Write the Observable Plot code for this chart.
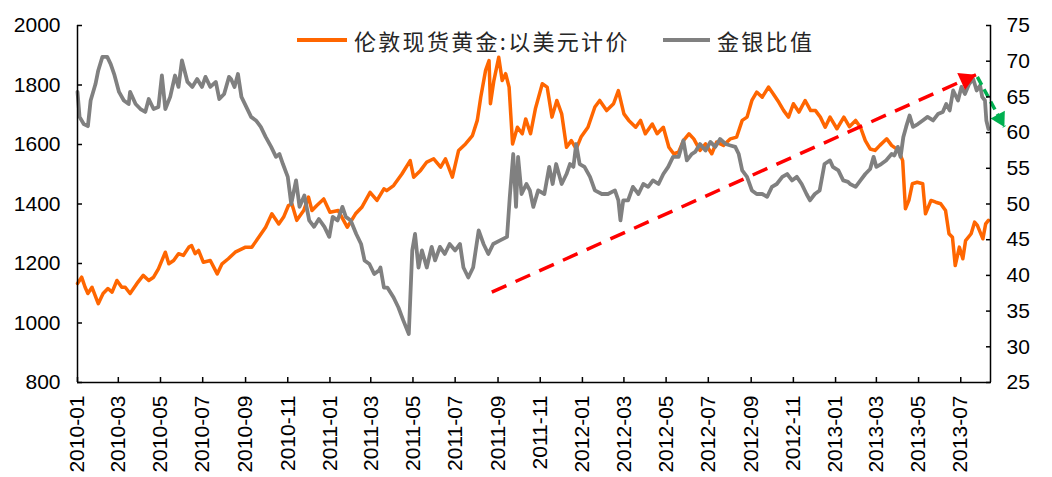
<!DOCTYPE html>
<html>
<head>
<meta charset="utf-8">
<script src="https://cdn.jsdelivr.net/npm/d3@7"></script>
<script src="https://cdn.jsdelivr.net/npm/@observablehq/plot@0.6"></script>
<style>
  html, body { margin: 0; padding: 0; background: #fff; }
  #wrap { position: relative; width: 1052px; height: 477px; }
  .item { position: absolute; top: 25px; height: 30px; display: flex; align-items: center;
          font-family: "Noto Sans CJK SC", "Noto Sans", sans-serif; font-size: 22px; letter-spacing: 2.3px; color: #262626; white-space: nowrap; }
  .sw { display: inline-block; height: 4px; margin-right: 7px; }
</style>
</head>
<body>
<div id="wrap"></div>
<script>
// ---------------- data ----------------
const legendLabels = ["伦敦现货黄金:以美元计价", "金银比值"];
const seriesColors = ["#FF6600", "#808080"];

const leftTicks = [800, 1000, 1200, 1400, 1600, 1800, 2000];
const rightTicks = [25, 30, 35, 40, 45, 50, 55, 60, 65, 70, 75];
const xTickLabels = ["2010-01","2010-03","2010-05","2010-07","2010-09","2010-11",
  "2011-01","2011-03","2011-05","2011-07","2011-09","2011-11",
  "2012-01","2012-03","2012-05","2012-07","2012-09","2012-11",
  "2013-01","2013-03","2013-05","2013-07"];
const xDomainDates = ["2010-01-01", "2013-08-13"];

// London spot gold, USD
const gold = [
  ["2010-01-01",1133],["2010-01-07",1154],["2010-01-12",1120],["2010-01-16",1099],["2010-01-22",1120],
  ["2010-01-31",1065],["2010-02-07",1099],["2010-02-14",1116],["2010-02-20",1104],["2010-02-27",1143],
  ["2010-03-06",1120],["2010-03-11",1120],["2010-03-18",1099],["2010-03-28",1133],["2010-04-06",1160],
  ["2010-04-14",1143],["2010-04-21",1154],["2010-04-28",1182],["2010-05-08",1238],["2010-05-13",1199],
  ["2010-05-20",1210],["2010-05-27",1233],["2010-06-03",1227],["2010-06-11",1255],["2010-06-15",1260],
  ["2010-06-20",1233],["2010-06-25",1244],["2010-07-02",1204],["2010-07-12",1210],["2010-07-22",1165],
  ["2010-07-29",1199],["2010-08-07",1216],["2010-08-17",1238],["2010-09-01",1255],["2010-09-10",1255],
  ["2010-09-20",1288],["2010-09-30",1322],["2010-10-09",1367],["2010-10-19",1333],["2010-10-26",1356],
  ["2010-11-02",1395],["2010-11-07",1400],["2010-11-14",1345],["2010-11-24",1378],["2010-12-01",1423],
  ["2010-12-06",1378],["2010-12-13",1395],["2010-12-23",1417],["2011-01-01",1372],["2011-01-13",1378],
  ["2011-01-26",1322],["2011-02-07",1367],["2011-02-16",1389],["2011-02-28",1439],["2011-03-10",1412],
  ["2011-03-20",1451],["2011-03-24",1445],["2011-04-03",1462],["2011-04-15",1501],["2011-04-27",1546],
  ["2011-05-02",1490],["2011-05-12",1513],["2011-05-21",1541],["2011-05-31",1552],["2011-06-10",1524],
  ["2011-06-17",1552],["2011-06-27",1490],["2011-07-06",1580],["2011-07-16",1602],["2011-07-26",1630],
  ["2011-08-02",1681],["2011-08-07",1759],["2011-08-14",1849],["2011-08-19",1882],["2011-08-21",1737],
  ["2011-08-26",1815],["2011-09-02",1893],["2011-09-07",1815],["2011-09-12",1838],["2011-09-17",1793],
  ["2011-09-22",1602],["2011-09-29",1658],["2011-10-06",1636],["2011-10-11",1686],["2011-10-18",1636],
  ["2011-10-25",1720],["2011-11-04",1804],["2011-11-11",1793],["2011-11-18",1692],["2011-11-25",1748],
  ["2011-12-02",1703],["2011-12-09",1591],["2011-12-16",1613],["2011-12-23",1585],["2011-12-30",1625],
  ["2012-01-09",1658],["2012-01-19",1726],["2012-01-26",1748],["2012-02-05",1714],["2012-02-15",1737],
  ["2012-02-22",1781],["2012-03-01",1703],["2012-03-08",1681],["2012-03-18",1658],["2012-03-25",1681],
  ["2012-04-01",1636],["2012-04-11",1669],["2012-04-18",1636],["2012-04-27",1658],["2012-05-05",1591],
  ["2012-05-12",1569],["2012-05-19",1574],["2012-05-26",1613],["2012-06-03",1636],["2012-06-10",1619],
  ["2012-06-19",1580],["2012-06-27",1602],["2012-07-06",1569],["2012-07-13",1608],["2012-07-23",1597],
  ["2012-08-02",1619],["2012-08-11",1625],["2012-08-19",1681],["2012-08-26",1692],["2012-09-02",1748],
  ["2012-09-09",1776],["2012-09-17",1759],["2012-09-26",1793],["2012-10-03",1770],["2012-10-11",1742],
  ["2012-10-18",1714],["2012-10-25",1692],["2012-11-01",1737],["2012-11-09",1709],["2012-11-18",1748],
  ["2012-11-26",1714],["2012-12-03",1714],["2012-12-10",1692],["2012-12-17",1658],["2012-12-24",1692],
  ["2013-01-03",1653],["2013-01-13",1692],["2013-01-21",1660],["2013-01-30",1681],["2013-02-06",1658],
  ["2013-02-13",1613],["2013-02-20",1585],["2013-02-27",1580],["2013-03-06",1597],["2013-03-16",1619],
  ["2013-03-23",1597],["2013-04-02",1580],["2013-04-08",1546],["2013-04-12",1384],["2013-04-17",1412],
  ["2013-04-22",1468],["2013-04-29",1473],["2013-05-07",1468],["2013-05-11",1367],["2013-05-19",1412],
  ["2013-05-26",1406],["2013-06-02",1401],["2013-06-09",1378],["2013-06-14",1300],["2013-06-19",1288],
  ["2013-06-23",1193],["2013-06-29",1255],["2013-07-04",1216],["2013-07-08",1277],["2013-07-16",1300],
  ["2013-07-21",1339],["2013-07-25",1328],["2013-08-02",1283],["2013-08-06",1333],["2013-08-10",1345]
];

// gold / silver ratio (right axis)
const ratio = [
  ["2010-01-01",65.7],["2010-01-04",62.2],["2010-01-10",61.2],["2010-01-16",60.9],["2010-01-20",64.5],
  ["2010-01-27",66.8],["2010-01-31",68.7],["2010-02-06",70.6],["2010-02-13",70.6],["2010-02-18",69.6],
  ["2010-02-23",68.2],["2010-03-02",65.7],["2010-03-09",64.5],["2010-03-16",64.0],["2010-03-18",65.7],
  ["2010-03-26",64.0],["2010-04-02",63.3],["2010-04-09",62.9],["2010-04-14",64.7],["2010-04-21",63.3],
  ["2010-04-28",63.6],["2010-05-03",68.0],["2010-05-08",63.3],["2010-05-15",65.0],["2010-05-22",68.0],
  ["2010-05-27",66.4],["2010-06-01",70.1],["2010-06-09",67.1],["2010-06-16",66.4],["2010-06-23",67.5],
  ["2010-06-30",66.4],["2010-07-05",67.8],["2010-07-12",66.4],["2010-07-20",67.1],["2010-07-25",64.7],
  ["2010-08-01",65.4],["2010-08-08",67.8],["2010-08-11",67.5],["2010-08-16",66.4],["2010-08-21",68.2],
  ["2010-08-26",65.0],["2010-09-02",63.6],["2010-09-09",62.2],["2010-09-16",61.7],["2010-09-23",60.8],
  ["2010-09-30",59.4],["2010-10-08",58.0],["2010-10-15",56.6],["2010-10-20",57.0],["2010-10-25",55.6],
  ["2010-11-01",53.8],["2010-11-06",50.0],["2010-11-13",53.3],["2010-11-18",49.6],["2010-11-25",51.2],
  ["2010-12-02",47.7],["2010-12-09",46.8],["2010-12-16",47.9],["2010-12-24",46.8],["2010-12-31",45.4],
  ["2011-01-05",48.2],["2011-01-12",47.7],["2011-01-19",49.6],["2011-01-24",48.2],["2011-01-31",47.7],
  ["2011-02-08",45.8],["2011-02-15",44.4],["2011-02-20",42.1],["2011-02-27",41.6],["2011-03-06",40.2],
  ["2011-03-13",40.7],["2011-03-15",41.1],["2011-03-20",38.3],["2011-03-25",38.3],["2011-04-03",36.9],
  ["2011-04-10",35.5],["2011-04-17",33.7],["2011-04-25",31.8],["2011-04-30",43.5],["2011-05-04",45.8],
  ["2011-05-09",41.1],["2011-05-14",43.5],["2011-05-21",41.1],["2011-05-28",44.0],["2011-06-02",42.1],
  ["2011-06-09",44.0],["2011-06-16",43.0],["2011-06-23",44.4],["2011-07-01",43.5],["2011-07-08",44.4],
  ["2011-07-13",41.1],["2011-07-20",39.7],["2011-07-27",41.1],["2011-08-04",46.3],["2011-08-11",44.4],
  ["2011-08-18",43.0],["2011-08-25",44.4],["2011-09-04",44.9],["2011-09-14",45.4],["2011-09-18",51.0],
  ["2011-09-23",57.0],["2011-09-27",49.6],["2011-09-30",56.6],["2011-10-05",51.4],["2011-10-12",52.8],
  ["2011-10-17",51.9],["2011-10-22",49.6],["2011-10-29",51.9],["2011-11-07",51.4],["2011-11-14",55.2],
  ["2011-11-19",52.8],["2011-11-24",55.6],["2011-12-02",52.8],["2011-12-09",54.2],["2011-12-14",55.6],
  ["2011-12-19",55.2],["2011-12-23",58.4],["2011-12-28",55.6],["2012-01-04",55.2],["2012-01-12",53.8],
  ["2012-01-19",51.9],["2012-01-29",51.4],["2012-02-07",51.4],["2012-02-17",51.9],["2012-02-22",50.5],
  ["2012-02-25",47.7],["2012-02-29",50.5],["2012-03-07",50.5],["2012-03-14",52.4],["2012-03-22",51.4],
  ["2012-03-29",52.8],["2012-04-05",52.4],["2012-04-12",53.3],["2012-04-20",52.8],["2012-04-27",54.2],
  ["2012-05-04",55.2],["2012-05-11",56.6],["2012-05-19",56.6],["2012-05-26",58.9],["2012-05-31",56.1],
  ["2012-06-07",57.0],["2012-06-12",57.3],["2012-06-19",58.4],["2012-06-27",57.5],["2012-07-04",58.7],
  ["2012-07-11",58.0],["2012-07-18",59.1],["2012-07-26",58.4],["2012-08-02",58.2],["2012-08-09",58.0],
  ["2012-08-14",57.0],["2012-08-19",54.7],["2012-08-26",53.8],["2012-09-02",51.9],["2012-09-09",51.4],
  ["2012-09-17",51.4],["2012-09-24",51.0],["2012-10-01",52.4],["2012-10-08",52.8],["2012-10-16",53.8],
  ["2012-10-23",54.2],["2012-10-30",53.3],["2012-11-06",53.8],["2012-11-13",52.8],["2012-11-20",51.4],
  ["2012-11-25",50.5],["2012-12-02",51.4],["2012-12-09",51.9],["2012-12-16",55.6],["2012-12-24",56.1],
  ["2012-12-28",55.2],["2013-01-05",54.7],["2013-01-12",53.3],["2013-01-19",53.1],["2013-01-22",52.8],
  ["2013-01-30",52.4],["2013-02-06",53.3],["2013-02-13",54.2],["2013-02-20",54.9],["2013-02-25",56.6],
  ["2013-03-01",55.2],["2013-03-08",55.6],["2013-03-15",56.1],["2013-03-23",57.0],["2013-03-27",56.8],
  ["2013-04-01",58.0],["2013-04-05",56.6],["2013-04-09",59.4],["2013-04-13",60.8],["2013-04-18",62.4],
  ["2013-04-23",60.8],["2013-04-30",61.2],["2013-05-07",61.7],["2013-05-14",62.2],["2013-05-22",61.7],
  ["2013-05-29",62.6],["2013-06-05",62.9],["2013-06-10",64.0],["2013-06-15",63.1],["2013-06-20",65.9],
  ["2013-06-27",64.5],["2013-07-02",66.4],["2013-07-07",65.4],["2013-07-13",66.8],["2013-07-19",67.5],
  ["2013-07-24",65.9],["2013-07-29",66.6],["2013-08-01",65.0],["2013-08-05",64.5],["2013-08-07",61.7],
  ["2013-08-10",60.5]
];

// annotation arrows, in ratio units (right axis)
const arrowStartDates = ["2011-08-23", "2013-07-25"];
const arrowStartRatio = [37.65, 67.8];
const arrowEndDates = ["2013-07-23", "2013-09-02"];
const arrowEndRatio = [68.1, 60.8];
const arrowColors = ["#FF0000", "#00B050"];

// ---------------- chart ----------------
const parse = s => new Date(s + "T00:00:00Z");
const toG = r => 800 + (r - 25) * 24;   // right-axis ratio -> left-axis scale
const goldRows = gold.map(([d, v]) => ({date: parse(d), value: v}));
const ratioRows = ratio.map(([d, v]) => ({date: parse(d), value: v}));
const xDomain = xDomainDates.map(parse);
const xTicks = xTickLabels.map(s => parse(s + "-01"));
const arrows = arrowColors.map((c, i) => ({
  x1: parse(arrowStartDates[i]), y1: toG(arrowStartRatio[i]),
  x2: parse(arrowEndDates[i]), y2: toG(arrowEndRatio[i]), color: c
}));
const red = [arrows[0]], green = [arrows[1]];

const chart = Plot.plot({
  width: 1052, height: 477,
  marginTop: 25, marginBottom: 95, marginLeft: 77, marginRight: 62,
  x: {type: "utc", domain: xDomain},
  y: {domain: [800, 2000]},
  style: {fontFamily: "'Liberation Sans', Arial, sans-serif", fontSize: "21px", color: "#000", background: "transparent", overflow: "visible"},
  marks: [
    Plot.lineY(goldRows, {x: "date", y: "value", stroke: seriesColors[0], strokeWidth: 3.5, strokeLinejoin: "round"}),
    Plot.lineY(ratioRows, {x: "date", y: d => toG(d.value), stroke: seriesColors[1], strokeWidth: 3.8, strokeLinejoin: "round"}),
    Plot.link(red, {x1: "x1", y1: "y1", x2: "x2", y2: "y2", stroke: arrowColors[0], strokeWidth: 3.5, strokeDasharray: "16,10"}),
    Plot.link(green, {x1: "x1", y1: "y1", x2: "x2", y2: "y2", stroke: arrowColors[1], strokeWidth: 3.5, strokeDasharray: "9,5"}),
    Plot.dot(red, {x: "x2", y: "y2", symbol: "triangle", r: 7, rotate: 65.8, fill: arrowColors[0], stroke: "none", dx: -9.9, dy: 4.5}),
    Plot.dot(green, {x: "x2", y: "y2", symbol: "triangle", r: 6, rotate: 151.7, fill: arrowColors[1], stroke: "none", dx: -4.4, dy: -8.2}),
    Plot.ruleX(xDomain, {stroke: "#000", strokeWidth: 1.5}),
    Plot.ruleY([800], {stroke: "#000", strokeWidth: 1.5}),
    Plot.axisY(leftTicks, {anchor: "left", tickSize: -5, tickPadding: 22, tickFormat: d => String(d), label: null, fontSize: 21, strokeWidth: 1.5}),
    Plot.axisY(rightTicks.map(toG), {anchor: "right", tickSize: -5, tickPadding: 21, tickFormat: g => String(Math.round((g - 800) / 24 + 25)), label: null, fontSize: 21, strokeWidth: 1.5}),
    Plot.axisX(xTicks, {anchor: "bottom", tickSize: -5, tickRotate: -90, tickPadding: 18, tickFormat: d3.utcFormat("%Y-%m"), label: null, fontSize: 21, strokeWidth: 1.5})
  ]
});

const wrap = document.getElementById("wrap");
wrap.appendChild(chart);

// legend (HTML, over the top of the plot)
const legendLeft = [297, 663];
const swatchWidth = [50, 47];
legendLabels.forEach((label, i) => {
  const item = document.createElement("div");
  item.className = "item";
  item.style.left = legendLeft[i] + "px";
  const sw = document.createElement("span");
  sw.className = "sw";
  sw.style.width = swatchWidth[i] + "px";
  sw.style.background = seriesColors[i];
  const tx = document.createElement("span");
  tx.textContent = label;
  item.appendChild(sw);
  item.appendChild(tx);
  wrap.appendChild(item);
});
</script>
</body>
</html>
